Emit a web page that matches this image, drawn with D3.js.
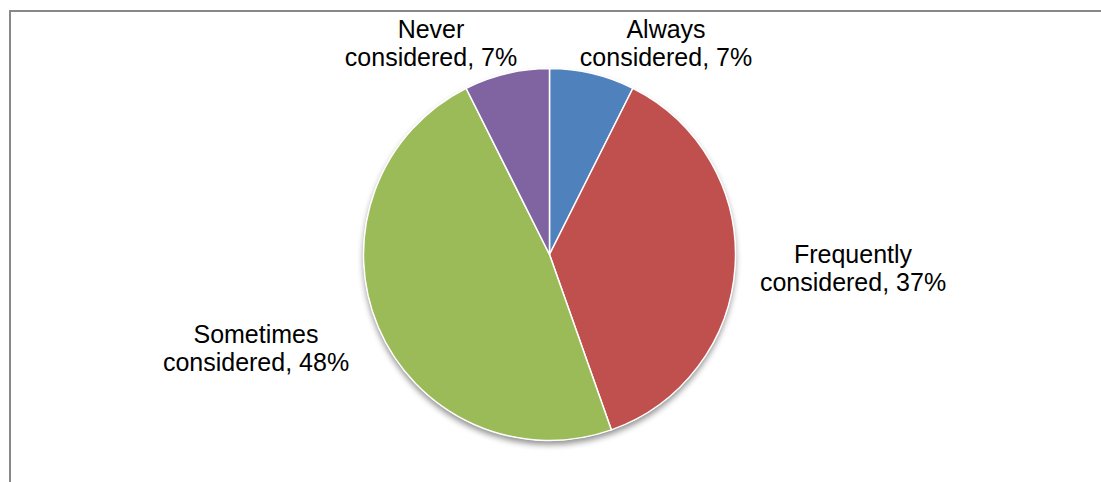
<!DOCTYPE html>
<html>
<head>
<meta charset="utf-8">
<script src="https://cdn.jsdelivr.net/npm/d3@7"></script>
<style>
  html, body { margin: 0; padding: 0; background: #fff; }
  svg { display: block; }
</style>
</head>
<body>
<svg id="chart" width="1101" height="482"></svg>
<script>
const categories = ["Always considered", "Frequently considered", "Sometimes considered", "Never considered"];
const values = [7.4, 37.2, 48.0, 7.4];
const colors = ["#4F81BD", "#C0504D", "#9BBB59", "#8064A2"];
// label anchors (center x, first baseline y)
const labelLines = [["Always", "considered, 7%"], ["Frequently", "considered, 37%"], ["Sometimes", "considered, 48%"], ["Never", "considered, 7%"]];
const labelPos = [[666, 38], [853, 263], [256, 343], [431, 38]];

const svg = d3.select("#chart");
const W = 1101, H = 482;

// outer frame (extends past right/bottom edges)
svg.append("rect")
  .attr("x", 10).attr("y", 11)
  .attr("width", 1300).attr("height", 700)
  .attr("fill", "none").attr("stroke", "#888888").attr("stroke-width", 2);

const defs = svg.append("defs");
const f = defs.append("filter").attr("id", "shadow")
  .attr("x", "-20%").attr("y", "-20%").attr("width", "140%").attr("height", "140%");
f.append("feGaussianBlur").attr("in", "SourceAlpha").attr("stdDeviation", 3).attr("result", "b");
f.append("feOffset").attr("in", "b").attr("dx", 0).attr("dy", 4).attr("result", "o");
f.append("feComponentTransfer").attr("in", "o").attr("result", "s")
  .append("feFuncA").attr("type", "linear").attr("slope", 0.45);
const m = f.append("feMerge");
m.append("feMergeNode").attr("in", "s");
m.append("feMergeNode").attr("in", "SourceGraphic");

const cx = 549.5, cy = 254.5, r = 186;
const pie = d3.pie().sort(null).value(d => d)(values);
const arc = d3.arc().innerRadius(0).outerRadius(r);

const g = svg.append("g").attr("transform", `translate(${cx},${cy})`);
g.append("circle").attr("r", r).attr("fill", "#fff").attr("filter", "url(#shadow)");
g.selectAll("path.slice").data(pie).join("path")
  .attr("class", "slice")
  .attr("d", arc)
  .attr("fill", (d, i) => colors[i])
  .attr("stroke", "#fff").attr("stroke-width", 1.5).attr("stroke-linejoin", "round");

const lab = svg.append("g")
  .attr("font-family", "Liberation Sans, Arial, sans-serif")
  .attr("font-size", 25).attr("fill", "#000").attr("text-anchor", "middle");
labelLines.forEach((lines, i) => {
  const t = lab.append("text").attr("x", labelPos[i][0]).attr("y", labelPos[i][1]);
  lines.forEach((s, j) => {
    t.append("tspan").attr("x", labelPos[i][0]).attr("dy", j === 0 ? 0 : 27.5).text(s);
  });
});
</script>
</body>
</html>
